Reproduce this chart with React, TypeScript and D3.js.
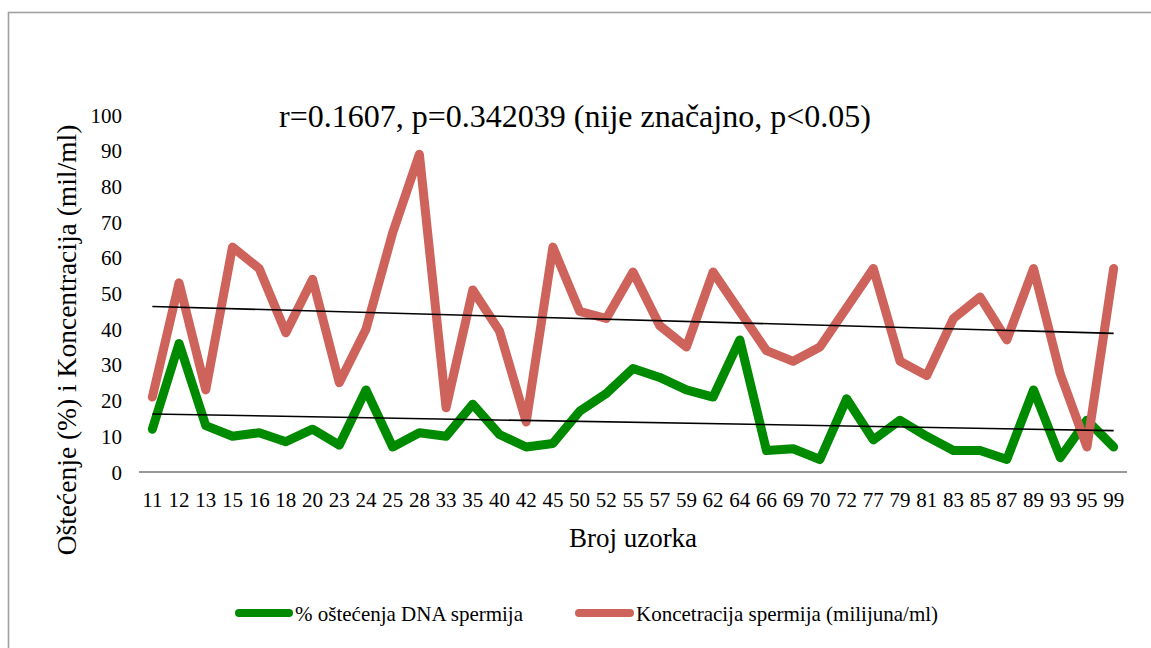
import React from 'react';
import * as d3 from 'd3';

const categories = ['11', '12', '13', '15', '16', '18', '20', '23', '24', '25', '28', '33', '35', '40', '42', '45', '50', '52', '55', '57', '59', '62', '64', '66', '69', '70', '72', '77', '79', '81', '83', '85', '87', '89', '93', '95', '99'];
const damage = [12, 36, 13, 10, 11, 8.5, 12, 7.5, 23, 7, 11, 10, 19, 10.5, 7, 8, 17, 22, 29, 26.5, 23, 21, 37, 6, 6.5, 3.5, 20.5, 9, 14.5, 10, 6, 6, 3.5, 23, 4, 14.5, 7];
const concentration = [21, 53, 23, 63, 57, 39, 54, 25, 40, 67, 89, 18, 51, 39.5, 14, 63, 45, 43, 56, 41, 35, 56, 45, 34, 31, 35, 46, 57, 31, 27, 43, 49, 37, 57, 27.5, 7, 57];
const yTicks = [0, 10, 20, 30, 40, 50, 60, 70, 80, 90, 100];

const title = 'r=0.1607, p=0.342039 (nije značajno, p<0.05)';
const seriesNames = ['% oštećenja DNA spermija', 'Koncetracija spermija (milijuna/ml)'];
const colors = ['#008a00', '#cd635b'];

const W = 1151;
const H = 648;
const dim = { l: 139, r: 1127, t: 115, b: 472 };
const font = 'Liberation Serif';

// least squares fit over category index
const trend = (vals: number[]) => {
  const xs = vals.map((_, i) => i);
  const mx = d3.mean(xs) as number;
  const my = d3.mean(vals) as number;
  const slope = d3.sum(xs, (x, i) => (x - mx) * (vals[i] - my)) / d3.sum(xs, (x) => (x - mx) ** 2);
  return [my - slope * mx, my + slope * (xs.length - 1 - mx)];
};

const App = () => {
  const x = d3.scaleBand<string>().domain(categories).range([dim.l, dim.r]);
  const y = d3.scaleLinear().domain([0, 100]).range([dim.b, dim.t]);
  const cx = (c: string) => (x(c) as number) + x.bandwidth() / 2;

  const line = d3
    .line<number>()
    .x((_, i) => cx(categories[i]))
    .y((d) => y(d));

  const series = [damage, concentration];

  return (
    <svg width={W} height={H} style={{ position: 'absolute', left: 0, top: 0 }}>
      <rect x={0} y={0} width={W} height={H} fill="#fff" />
      <rect x={8.5} y={12.5} width={W + 10} height={H} fill="none" stroke="#a0a0a0" strokeWidth={1.6} />

      <text x={575} y={127} textAnchor="middle" fontSize={32} fontFamily={font}>
        {title}
      </text>

      {yTicks.map((t) => (
        <text key={t} x={122} y={y(t) + 7.5} textAnchor="end" fontSize={21} fontFamily={font}>
          {t}
        </text>
      ))}

      {categories.map((c) => (
        <text key={c} x={cx(c)} y={507} textAnchor="middle" fontSize={21} fontFamily={font}>
          {c}
        </text>
      ))}

      <text x={633} y={547} textAnchor="middle" fontSize={27} fontFamily={font}>
        Broj uzorka
      </text>
      <text transform="translate(76, 340) rotate(-90)" textAnchor="middle" fontSize={27.5} fontFamily={font}>
        Oštećenje (%) i Koncentracija (mil/ml)
      </text>

      <line x1={dim.l} x2={dim.r} y1={dim.b} y2={dim.b} stroke="#999" strokeWidth={2} />

      {series.map((s, k) => (
        <path key={k} d={line(s) as string} fill="none" stroke={colors[k]} strokeWidth={9} strokeLinejoin="round" strokeLinecap="round" />
      ))}

      {series.map((s, k) => {
        const [a, b] = trend(s);
        return (
          <line key={'t' + k} x1={cx(categories[0])} x2={cx(categories[categories.length - 1])} y1={y(a)} y2={y(b)} stroke="#000" strokeWidth={1.6} />
        );
      })}

      <line x1={239} x2={289} y1={613} y2={613} stroke={colors[0]} strokeWidth={8} strokeLinecap="round" />
      <text x={295} y={621} fontSize={21} fontFamily={font}>{seriesNames[0]}</text>
      <line x1={579} x2={630} y1={613} y2={613} stroke={colors[1]} strokeWidth={8} strokeLinecap="round" />
      <text x={636} y={621} fontSize={21} fontFamily={font}>{seriesNames[1]}</text>
    </svg>
  );
};

export default App;
